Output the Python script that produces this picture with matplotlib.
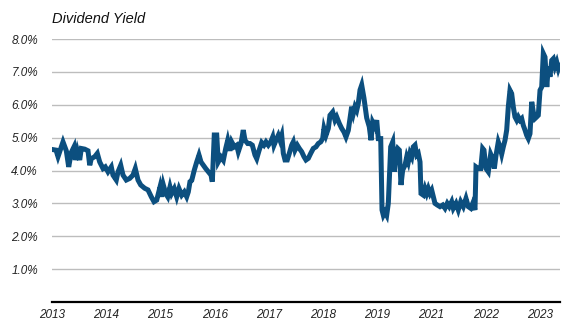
import matplotlib
matplotlib.use("Agg")
import matplotlib.pyplot as plt
from matplotlib.ticker import FuncFormatter

# time in axis units (one unit per labelled year tick), dividend yield in %
t = [0.000, 0.074, 0.111, 0.148, 0.203, 0.264, 0.308, 0.356, 0.406, 0.430,
     0.467, 0.511, 0.541, 0.603, 0.664, 0.696, 0.725, 0.788, 0.836, 0.880,
     0.941, 0.983, 1.033, 1.094, 1.125, 1.186, 1.218, 1.268, 1.310, 1.371,
     1.434, 1.494, 1.537, 1.587, 1.637, 1.710, 1.771, 1.832, 1.882, 1.932,
     1.993, 2.024, 2.054, 2.098, 2.135, 2.177, 2.208, 2.256, 2.301, 2.343,
     2.393, 2.441, 2.485, 2.515, 2.546, 2.578, 2.625, 2.670, 2.712, 2.749,
     2.792, 2.836, 2.884, 2.934, 2.958, 2.994, 3.039, 3.068, 3.118, 3.161,
     3.205, 3.242, 3.284, 3.315, 3.363, 3.408, 3.437, 3.487, 3.529, 3.561,
     3.611, 3.653, 3.696, 3.745, 3.777, 3.819, 3.869, 3.911, 3.948, 3.991,
     4.035, 4.072, 4.096, 4.133, 4.175, 4.207, 4.238, 4.268, 4.299, 4.341,
     4.378, 4.422, 4.452, 4.483, 4.526, 4.563, 4.607, 4.649, 4.686, 4.729,
     4.773, 4.821, 4.871, 4.913, 4.958, 4.994, 5.018, 5.055, 5.098, 5.129,
     5.179, 5.221, 5.253, 5.301, 5.345, 5.387, 5.424, 5.467, 5.498, 5.529,
     5.559, 5.590, 5.622, 5.651, 5.683, 5.714, 5.756, 5.806, 5.854, 5.886,
     5.917, 5.959, 5.991, 6.020, 6.065, 6.089, 6.113, 6.144, 6.175, 6.205,
     6.249, 6.286, 6.316, 6.347, 6.378, 6.408, 6.439, 6.470, 6.513, 6.544,
     6.574, 6.605, 6.637, 6.666, 6.697, 6.729, 6.758, 6.790, 6.808, 6.851,
     6.882, 6.913, 6.943, 6.974, 7.006, 7.035, 7.066, 7.109, 7.159, 7.209,
     7.251, 7.292, 7.330, 7.374, 7.404, 7.454, 7.496, 7.541, 7.589, 7.638,
     7.681, 7.725, 7.762, 7.804, 7.823, 7.865, 7.910, 7.946, 7.970, 8.007,
     8.050, 8.094, 8.131, 8.161, 8.192, 8.234, 8.266, 8.297, 8.327, 8.358,
     8.389, 8.419, 8.450, 8.481, 8.511, 8.542, 8.574, 8.603, 8.635, 8.666,
     8.696, 8.727, 8.758, 8.788, 8.819, 8.851, 8.880, 8.911, 8.943, 8.972,
     9.004, 9.035, 9.065, 9.096, 9.129, 9.157, 9.188, 9.220, 9.249, 9.280,
     9.312, 9.341, 9.360]

yield_pct = [4.64, 4.62, 4.42, 4.60, 4.87, 4.60, 4.11, 4.55, 4.72, 4.32,
             4.60, 4.32, 4.67, 4.65, 4.60, 4.16, 4.36, 4.42, 4.52, 4.26,
             4.06, 4.11, 3.96, 4.11, 3.86, 3.71, 3.96, 4.16, 3.86, 3.71,
             3.76, 3.86, 4.06, 3.71, 3.56, 3.46, 3.41, 3.20, 3.05, 3.10,
             3.50, 3.20, 3.56, 3.30, 3.20, 3.50, 3.30, 3.45, 3.20, 3.45,
             3.25, 3.35, 3.20, 3.35, 3.66, 3.70, 4.01, 4.26, 4.47, 4.26,
             4.16, 4.06, 3.96, 3.86, 3.66, 5.08, 5.08, 4.26, 4.41, 4.31,
             4.67, 4.92, 4.60, 4.87, 4.72, 4.77, 4.57, 4.82, 5.23, 4.92,
             4.82, 4.82, 4.77, 4.47, 4.36, 4.60, 4.85, 4.77, 4.87, 4.77,
             4.87, 5.02, 4.77, 4.92, 5.07, 4.92, 5.07, 4.52, 4.32, 4.32,
             4.52, 4.77, 4.87, 4.62, 4.77, 4.67, 4.57, 4.42, 4.32, 4.37,
             4.52, 4.67, 4.72, 4.82, 4.87, 4.97, 5.28, 5.07, 5.28, 5.68,
             5.78, 5.53, 5.63, 5.43, 5.28, 5.17, 5.02, 5.22, 5.58, 5.94,
             5.73, 5.94, 5.83, 6.04, 6.45, 6.60, 6.20, 5.60, 5.33, 4.92,
             5.47, 5.33, 5.53, 4.97, 4.97, 2.80, 2.64, 2.74, 2.64, 3.00,
             4.72, 4.87, 3.96, 4.52, 4.67, 4.62, 3.56, 4.01, 4.16, 4.41,
             4.26, 4.52, 4.41, 4.72, 4.77, 4.47, 4.52, 4.26, 3.30, 3.25,
             3.45, 3.30, 3.45, 3.30, 3.40, 3.20, 3.00, 2.95, 2.90, 2.95,
             2.85, 3.00, 2.90, 3.05, 2.85, 3.00, 2.80, 3.05, 2.90, 3.15,
             2.90, 2.85, 3.00, 2.80, 4.11, 4.06, 4.06, 4.67, 4.62, 4.06,
             3.96, 4.50, 4.36, 4.06, 4.46, 4.87, 4.72, 4.50, 4.72, 4.92,
             5.23, 5.94, 6.44, 6.34, 5.94, 5.63, 5.53, 5.63, 5.53, 5.58,
             5.37, 5.23, 5.07, 4.97, 5.12, 6.09, 5.78, 5.58, 5.63, 5.68,
             6.44, 6.54, 7.56, 7.45, 6.54, 7.16, 6.85, 7.35, 7.40, 7.16,
             7.30, 7.10, 7.20]

year_labels = ["2013", "2014", "2015", "2016", "2017", "2018", "2019",
               "2021", "2022", "2023"]
y_ticks = [1, 2, 3, 4, 5, 6, 7, 8]

plt.rcParams['font.family'] = ['Liberation Sans', 'DejaVu Sans']

fig = plt.figure(figsize=(5.72, 3.30), dpi=100)
ax = fig.add_axes([52 / 572, 1 - 302 / 330, (560 - 52) / 572, (302 - 39) / 330])

ax.plot(t, yield_pct, color='#0c4f7f', lw=3.6, solid_joinstyle='miter',
        clip_on=True, zorder=3)

ax.set_xlim(0, (560 - 52) / 54.2)
ax.set_ylim(0, 8)
ax.set_yticks(y_ticks)
ax.yaxis.set_major_formatter(FuncFormatter(lambda v, p: f"{v:.1f}%"))
ax.set_xticks(range(len(year_labels)))
ax.set_xticklabels(year_labels)

ax.grid(axis='y', color='#bdbdbd', lw=1.0, zorder=0)
ax.grid(axis='x', visible=False)
for s in ['top', 'right', 'left']:
    ax.spines[s].set_visible(False)
ax.spines['bottom'].set_color('black')
ax.spines['bottom'].set_linewidth(1.6)
ax.spines['bottom'].set_zorder(4)

ax.tick_params(axis='y', length=0, pad=10, labelsize=8.5, labelcolor='#222222')
ax.tick_params(axis='x', length=0, pad=5, labelsize=8.5, labelcolor='#222222')
for lab in ax.get_xticklabels() + ax.get_yticklabels():
    lab.set_fontstyle('italic')

fig.text(52 / 572, 1 - 23 / 330, "Dividend Yield", fontsize=10.5,
         fontstyle='italic', color='#111111', ha='left', va='baseline')

fig.savefig("out.png", dpi=100)
